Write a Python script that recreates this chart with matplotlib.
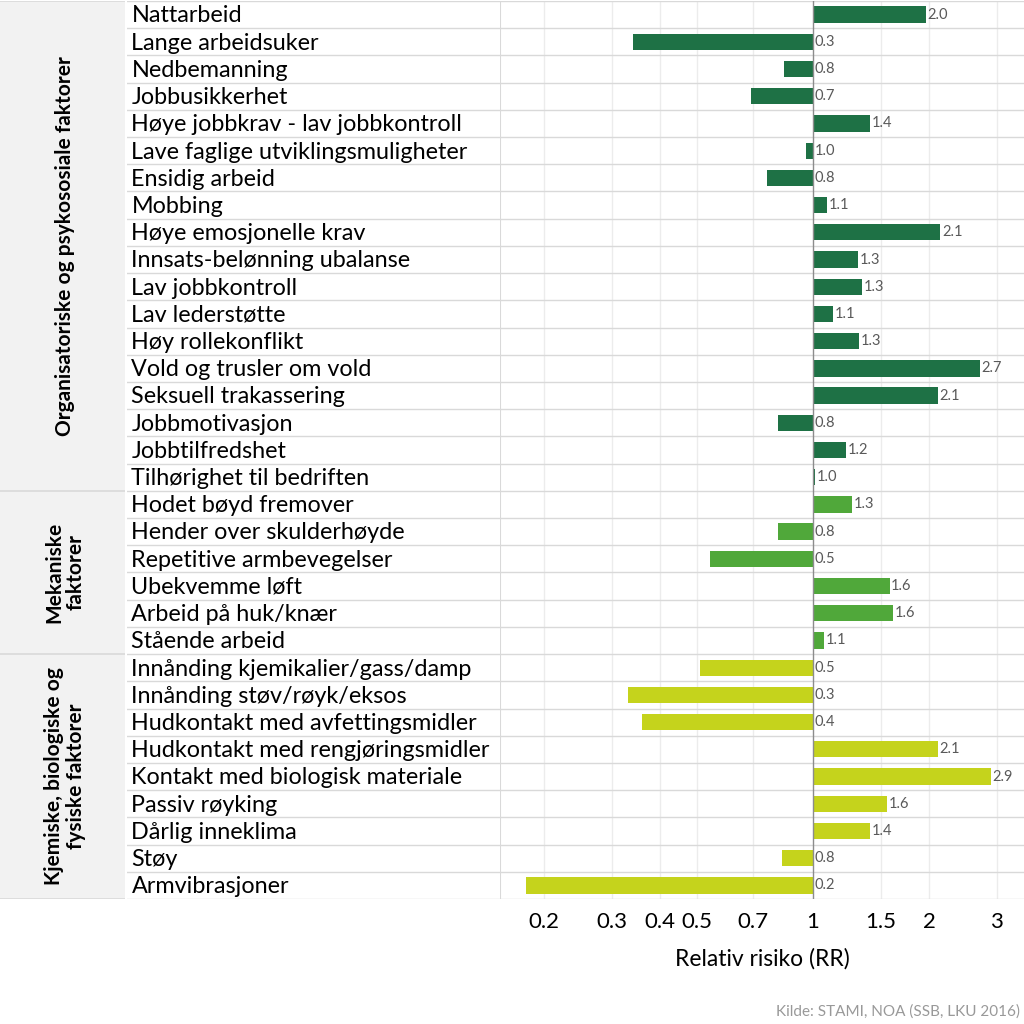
import numpy as np
import matplotlib
matplotlib.use("Agg")
import matplotlib.pyplot as plt
from matplotlib.ticker import FixedLocator, NullLocator

# Data
faktorer = [
    "Nattarbeid", "Lange arbeidsuker", "Nedbemanning", "Jobbusikkerhet",
    "Høye jobbkrav - lav jobbkontroll", "Lave faglige utviklingsmuligheter",
    "Ensidig arbeid", "Mobbing", "Høye emosjonelle krav", "Innsats-belønning ubalanse",
    "Lav jobbkontroll", "Lav lederstøtte", "Høy rollekonflikt", "Vold og trusler om vold",
    "Seksuell trakassering", "Jobbmotivasjon", "Jobbtilfredshet", "Tilhørighet til bedriften",
    "Hodet bøyd fremover", "Hender over skulderhøyde", "Repetitive armbevegelser",
    "Ubekvemme løft", "Arbeid på huk/knær", "Stående arbeid",
    "Innånding kjemikalier/gass/damp", "Innånding støv/røyk/eksos",
    "Hudkontakt med avfettingsmidler", "Hudkontakt med rengjøringsmidler",
    "Kontakt med biologisk materiale", "Passiv røyking", "Dårlig inneklima", "Støy",
    "Armvibrasjoner",
]
rr = [
    1.96, 0.34, 0.84, 0.69, 1.41, 0.96, 0.76, 1.09, 2.14, 1.31,
    1.34, 1.13, 1.32, 2.71, 2.11, 0.81, 1.22, 1.01,
    1.26, 0.81, 0.54, 1.58, 1.61, 1.07,
    0.51, 0.33, 0.36, 2.11, 2.90, 1.56, 1.41, 0.83, 0.18,
]
grupper = ["Organisatoriske og psykososiale faktorer",
           "Mekaniske\nfaktorer",
           "Kjemiske, biologiske og\nfysiske faktorer"]
gruppe_antall = [18, 6, 9]
gruppe_farger = ["#1e7145", "#50a83a", "#c5d31c"]

ticks = [0.2, 0.3, 0.4, 0.5, 0.7, 1, 1.5, 2, 3]
tick_tekst = ["0.2", "0.3", "0.4", "0.5", "0.7", "1", "1.5", "2", "3"]

plt.rcParams['font.family'] = ['Lato', 'DejaVu Sans']

fig = plt.figure(figsize=(10.24, 10.24), dpi=100)
W = H = 1024.0
top = 1 - 1 / H
bot = 1 - 899 / H
ax_g = fig.add_axes([0, bot, 125 / W, top - bot])
ax_l = fig.add_axes([127 / W, bot, (500 - 127) / W, top - bot])
ax = fig.add_axes([500 / W, bot, 524 / W, top - bot])

n = len(faktorer)
y = np.arange(n)
farger = []
for f, k in zip(gruppe_farger, gruppe_antall):
    farger += [f] * k

linje = "#d9d9d9"

# plot area
ax.set_xscale("log")
ax.barh(y, np.array(rr) - 1, left=1, height=0.6, color=farger, zorder=3)
ax.set_xlim(0.154, 3.53)
ax.set_ylim(n - 0.5, -0.5)
ax.xaxis.set_major_locator(FixedLocator(ticks))
ax.xaxis.set_minor_locator(NullLocator())
ax.set_xticklabels(tick_tekst, fontsize=16)
ax.tick_params(axis="x", length=0, pad=9)
ax.set_yticks([])
for t in ticks:
    if t != 1:
        ax.axvline(t, color="#ececec", lw=1, zorder=1)
ax.axvline(1, color="#8c8c8c", lw=1, zorder=4)
for s in ax.spines.values():
    s.set_visible(False)
ax.axvline(0.154, color=linje, lw=1.5, zorder=2)
for i in range(n + 1):
    ax.axhline(i - 0.5, color=linje, lw=1, zorder=2)
for yi, v in zip(y, rr):
    x0 = v * 1.01 if v >= 1 else 1.012
    ax.text(x0, yi, f"{v:.1f}", va="center", ha="left", fontsize=10.5, color="#595959", zorder=5)
ax.set_xlabel("Relativ risiko (RR)", fontsize=16.5, labelpad=12)

# labels column
ax_l.set_xlim(0, 1)
ax_l.set_ylim(n - 0.5, -0.5)
ax_l.axis("off")
for i in range(n + 1):
    ax_l.axhline(i - 0.5, color=linje, lw=1)
for yi, lab in zip(y, faktorer):
    ax_l.text(0.012, yi + 0.05, lab, va="center", ha="left", fontsize=16.8, color="black")

# group column
ax_g.set_xlim(0, 1)
ax_g.set_ylim(n - 0.5, -0.5)
ax_g.set_facecolor("#f2f2f2")
ax_g.set_xticks([])
ax_g.set_yticks([])
for s in ax_g.spines.values():
    s.set_visible(False)
start = 0
for navn, k in zip(grupper, gruppe_antall):
    ax_g.axhline(start - 0.5, color=linje, lw=1.2)
    ax_g.text(0.52, start + (k - 1) / 2, navn, rotation=90, ha="center", va="center",
              fontsize=15, fontweight="bold", linespacing=1.1)
    start += k
ax_g.axhline(n - 0.5, color=linje, lw=1.2)

fig.text(1020 / W, 1 - 1012 / H, "Kilde: STAMI, NOA (SSB, LKU 2016)", ha="right", va="center",
         fontsize=11, color="#999999")

fig.savefig("out.png", dpi=100, facecolor="white")
